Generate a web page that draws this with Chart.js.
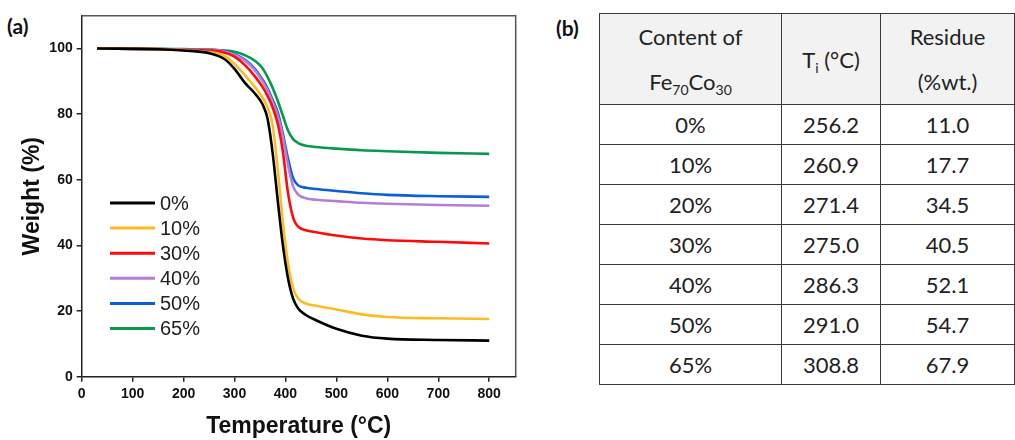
<!DOCTYPE html>
<html>
<head>
<meta charset="utf-8">
<script src="https://cdn.jsdelivr.net/npm/chart.js@4.4.1/dist/chart.umd.min.js"></script>
<style>
  body { margin: 0; background: #fff; width: 1015px; height: 440px; overflow: hidden; position: relative; }
  #chartBox { position: absolute; left: 0; top: 0; width: 545px; height: 440px; }
  .panel { position: absolute; font-family: Lato, "Open Sans", sans-serif; font-weight: bold; font-size: 21px; color: #111; }
  #tbl { position: absolute; left: 599px; top: 13px; border-collapse: collapse; font-family: Lato, "Noto Sans", sans-serif; font-size: 22px; color: #222; }
  #tbl td, #tbl th { border: 1.5px solid #3a3a3a; text-align: center; padding: 0; font-weight: normal; }
  #tbl th { background: #f2f2f2; height: 84px; line-height: 45px; }
  #tbl td { height: 39px; }
  sub { font-size: 14px; vertical-align: -5px; line-height: 0; }
</style>
</head>
<body>
<div class="panel" style="left:7px; top:13px;">(a)</div>
<div class="panel" style="left:556px; top:15px;">(b)</div>
<div id="chartBox"><canvas id="tgaChart" width="545" height="440"></canvas></div>
<table id="tbl">
  <thead>
    <tr>
      <th style="width:181px">Content of<br>Fe<sub>70</sub>Co<sub>30</sub></th>
      <th style="width:98px">T<sub>i</sub> (°C)</th>
      <th style="width:133px">Residue<br>(%wt.)</th>
    </tr>
  </thead>
  <tbody id="tblBody"></tbody>
</table>
<script>
// TGA curves, weight (%) read at these temperatures (°C)
const temps = [30, 150, 200, 250, 280, 300, 320, 340, 355, 365, 375, 385, 395, 405, 415, 425, 440, 460, 500, 550, 600, 700, 800];

const labels = ['0%', '10%', '30%', '40%', '50%', '65%'];
const colors = ['#000000', '#ffbb22', '#ff0a0a', '#b57ed9', '#0a5ed8', '#079a4e'];

const w0  = [100, 99.8, 99.4, 98.6, 96.8, 93.8, 89.6, 86.3, 83.0, 78.5, 68.0, 53.5, 40.0, 30.0, 23.8, 20.8, 18.8, 17.2, 14.6, 12.5, 11.6, 11.2, 11.0];
const w10 = [100, 99.8, 99.5, 98.9, 97.8, 95.3, 92.0, 88.3, 85.0, 82.0, 76.5, 63.0, 47.0, 34.5, 27.0, 23.8, 22.3, 21.6, 20.5, 19.0, 18.2, 17.8, 17.6];
const w30 = [100, 99.8, 99.6, 99.4, 98.8, 97.5, 95.0, 91.5, 88.3, 85.5, 82.0, 77.0, 68.5, 56.0, 48.5, 45.7, 44.6, 44.0, 43.0, 42.1, 41.6, 41.1, 40.6];
const w40 = [100, 99.8, 99.7, 99.6, 99.1, 98.1, 96.3, 93.4, 90.0, 87.2, 83.6, 79.5, 73.0, 64.5, 58.0, 55.5, 54.4, 53.9, 53.5, 53.0, 52.7, 52.3, 52.1];
const w50 = [100, 99.8, 99.7, 99.6, 99.2, 98.3, 96.6, 93.8, 90.5, 87.8, 84.3, 80.5, 74.0, 66.5, 60.5, 58.3, 57.6, 57.2, 56.6, 55.9, 55.4, 55.0, 54.8];
const w65 = [100, 99.9, 99.8, 99.7, 99.4, 99.0, 98.0, 96.3, 94.0, 91.3, 88.0, 84.0, 79.5, 75.0, 72.4, 71.2, 70.4, 70.0, 69.5, 69.0, 68.7, 68.2, 67.9];
const weights = [w0, w10, w30, w40, w50, w65];

// table (b)
const contents = ['0%', '10%', '20%', '30%', '40%', '50%', '65%'];
const tiValues = ['256.2', '260.9', '271.4', '275.0', '286.3', '291.0', '308.8'];
const residues = ['11.0', '17.7', '34.5', '40.5', '52.1', '54.7', '67.9'];

const body = document.getElementById('tblBody');
contents.forEach((c, i) => {
    const tr = document.createElement('tr');
    [c, tiValues[i], residues[i]].forEach(v => {
        const td = document.createElement('td');
        td.textContent = v;
        tr.appendChild(td);
    });
    body.appendChild(tr);
});

// frame on top/right + legend inside the plot
const framePlugin = {
    id: 'frame',
    afterDatasetsDraw(chart) {
        const { ctx, chartArea: a } = chart;
        ctx.save();
        ctx.strokeStyle = '#555';
        ctx.lineWidth = 1.5;
        ctx.beginPath();
        ctx.moveTo(a.left, a.top);
        ctx.lineTo(a.right, a.top);
        ctx.lineTo(a.right, a.bottom);
        ctx.stroke();

        // legend
        ctx.font = '20px "Liberation Sans", Arial, sans-serif';
        ctx.textBaseline = 'middle';
        chart.data.datasets.forEach((ds, i) => {
            const y = 203 + i * 25.1;
            ctx.strokeStyle = ds.borderColor;
            ctx.lineWidth = 3;
            ctx.beginPath();
            ctx.moveTo(110, y);
            ctx.lineTo(155, y);
            ctx.stroke();
            ctx.fillStyle = '#222';
            ctx.fillText(ds.label, 160, y + 1);
        });
        ctx.restore();
    }
};

const tickFont = { family: '"Liberation Sans", Arial, sans-serif', size: 14, weight: 'bold' };
const titleFont = { family: '"Liberation Sans", Arial, sans-serif', size: 23, weight: 'bold' };

new Chart(document.getElementById('tgaChart'), {
    type: 'line',
    data: {
        datasets: labels.map((lab, i) => ({
            label: lab,
            data: temps.map((t, j) => ({ x: t, y: weights[i][j] })),
            borderColor: colors[i],
            borderWidth: 2.6,
            pointRadius: 0,
            cubicInterpolationMode: 'monotone',
            fill: false
        }))
    },
    options: {
        responsive: false,
        animation: false,
        layout: { padding: { left: 0, top: 15.7, right: 29.3, bottom: 0 } },
        plugins: { legend: { display: false }, tooltip: { enabled: false } },
        scales: {
            x: {
                type: 'linear',
                min: 0,
                max: 852,
                afterFit: s => { s.height = 63.3; },
                ticks: {
                    stepSize: 100,
                    includeBounds: false,
                    autoSkip: false,
                    maxRotation: 0,
                    padding: 4,
                    color: '#111',
                    font: tickFont
                },
                grid: { drawOnChartArea: false, drawTicks: true, tickLength: 5, color: '#222', lineWidth: 1.5 },
                border: { color: '#222', width: 1.5 },
                title: { display: true, text: 'Temperature (°C)', color: '#111', font: titleFont, padding: { top: 0, bottom: 0 } }
            },
            y: {
                min: 0,
                max: 110,
                afterFit: s => { s.width = 81.7; },
                ticks: {
                    stepSize: 20,
                    includeBounds: false,
                    padding: 4,
                    color: '#111',
                    font: tickFont
                },
                grid: { drawOnChartArea: false, drawTicks: true, tickLength: 5, color: '#222', lineWidth: 1.5 },
                border: { color: '#222', width: 1.5 },
                title: { display: true, text: 'Weight (%)', color: '#111', font: titleFont, padding: { top: 19, bottom: 0 } }
            }
        }
    },
    plugins: [framePlugin]
});
</script>
</body>
</html>
